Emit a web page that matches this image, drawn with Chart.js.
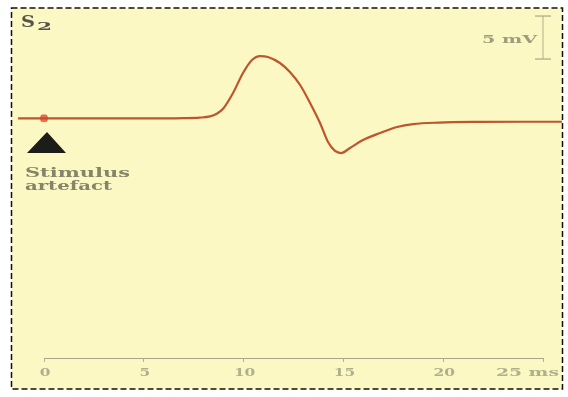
<!DOCTYPE html>
<html>
<head>
<meta charset="utf-8">
<script src="https://cdn.jsdelivr.net/npm/chart.js@4/dist/chart.umd.min.js"></script>
<style>
  html, body { margin: 0; padding: 0; background: #ffffff; }
  #wrap { position: relative; width: 568px; height: 397px; }
</style>
</head>
<body>
<div id="wrap"><canvas id="c" width="568" height="397"></canvas></div>
<script>
// ---- data (time in ms, potential in mV) ----
const traceMs = [-1.3, 0, 2, 4, 6, 7.0, 7.8, 8.32, 8.65, 8.97, 9.47, 9.97, 10.42, 10.82, 11.22, 11.82, 12.32, 12.83, 13.33, 13.83, 14.23, 14.58, 14.88, 15.33, 15.98, 16.83, 17.69, 18.49, 19.8, 21.8, 24, 25.95];
const traceMv = [0.2, 0.2, 0.2, 0.2, 0.2, 0.22, 0.28, 0.42, 0.72, 1.3, 3.14, 5.47, 6.98, 7.44, 7.33, 6.63, 5.58, 4.07, 1.98, -0.35, -2.56, -3.6, -3.84, -3.26, -2.33, -1.51, -0.81, -0.47, -0.3, -0.22, -0.2, -0.2];
const artefactMs = 0;
const artefactMv = 0.2;
const scaleBarMs = 25;
const scaleBarMv = [7.09, 12.09];   // 5 mV calibration bar
const scaleBarLabel = '5 mV';
const xTicks = [0, 5, 10, 15, 20, 25];
const xTickLabels = ['0', '5', '10', '15', '20', '25 ms'];
const panelLabel = 'S';
const panelSub = '2';
const artefactLabel = ['Stimulus', 'artefact'];

const BG = '#fbf8c4';

function stretchText(ctx, text, x, y, align, font, color, targetW) {
  ctx.save();
  ctx.font = font;
  ctx.fillStyle = color;
  ctx.textBaseline = 'alphabetic';
  const w = ctx.measureText(text).width;
  const sx = targetW ? targetW / w : 1;
  let left = x;
  if (align === 'center') left = x - (w * sx) / 2;
  else if (align === 'right') left = x - w * sx;
  ctx.translate(left, y);
  ctx.scale(sx, 1);
  ctx.textAlign = 'left';
  ctx.fillText(text, 0, 0);
  ctx.restore();
}

const panelPlugin = {
  id: 'panel',
  beforeDraw(chart) {
    const ctx = chart.ctx;
    ctx.save();
    ctx.fillStyle = BG;
    ctx.fillRect(11, 8, 551, 381);
    ctx.restore();
  },
  afterDraw(chart) {
    const ctx = chart.ctx;
    const xs = chart.scales.x, ys = chart.scales.y;
    // dashed frame
    ctx.save();
    ctx.strokeStyle = '#111';
    ctx.lineWidth = 1.5;
    ctx.setLineDash([6, 3]);
    ctx.strokeRect(11.5, 8, 551, 381);
    ctx.restore();

    const serif = '"DejaVu Serif", "Liberation Serif", serif';
    // x tick labels
    xTicks.forEach((v, i) => {
      const px = xs.getPixelForValue(v);
      const lab = xTickLabels[i];
      const f = 'bold 11px ' + serif;
      if (i === xTicks.length - 1) {
        stretchText(ctx, lab, px + 16, 376, 'right', f, '#b0af8e', 63);
      } else {
        ctx.save(); ctx.font = f;
        const w = ctx.measureText(lab).width; ctx.restore();
        stretchText(ctx, lab, px + 1, 376, 'center', f, '#b0af8e', w * 1.4);
      }
    });

    // calibration label
    const barMid = ys.getPixelForValue((scaleBarMv[0] + scaleBarMv[1]) / 2);
    stretchText(ctx, scaleBarLabel, xs.getPixelForValue(scaleBarMs) - 6, barMid + 5, 'right',
      'bold 11px ' + serif, '#9e9d7c', 55);

    // panel label S2
    stretchText(ctx, panelLabel, 21, 27, 'left', 'bold 17px ' + serif, '#55544a', 14);
    stretchText(ctx, panelSub, 37, 30, 'left', 'bold 11px ' + serif, '#55544a', 15);

    // stimulus artefact marker (triangle) and text
    const ax = xs.getPixelForValue(artefactMs);
    ctx.save();
    ctx.fillStyle = '#1c1c18';
    ctx.beginPath();
    ctx.moveTo(ax + 3, 132);
    ctx.lineTo(ax + 22, 153);
    ctx.lineTo(ax - 17, 153);
    ctx.closePath();
    ctx.fill();
    ctx.restore();
    stretchText(ctx, artefactLabel[0], 25, 177, 'left', 'bold 12px ' + serif, '#85846a', 105);
    stretchText(ctx, artefactLabel[1], 25, 190, 'left', 'bold 12px ' + serif, '#85846a', 87);
  }
};

const traceData = traceMs.map((t, i) => ({ x: t, y: traceMv[i] }));

new Chart(document.getElementById('c'), {
  type: 'scatter',
  data: {
    datasets: [
      {
        label: 'trace',
        data: traceData,
        showLine: true,
        borderColor: '#bd552e',
        borderWidth: 2.2,
        pointRadius: 0,
        cubicInterpolationMode: 'monotone',
        clip: false,
        order: 2
      },
      {
        label: 'artefact',
        data: [{ x: artefactMs, y: artefactMv }],
        pointStyle: 'rectRounded',
        pointRadius: 4,
        backgroundColor: 'rgba(215,60,40,0.7)',
        borderColor: 'rgba(215,60,40,0.45)',
        borderWidth: 1,
        clip: false,
        order: 1
      },
      {
        label: 'calibration',
        data: scaleBarMv.map(v => ({ x: scaleBarMs, y: v })),
        showLine: true,
        borderColor: '#c2c196',
        borderWidth: 1.3,
        pointStyle: 'line',
        pointRadius: 8,
        pointBorderColor: '#aead86',
        pointBorderWidth: 1.3,
        clip: false,
        order: 3
      }
    ]
  },
  options: {
    responsive: false,
    animation: false,
    events: [],
    layout: { padding: { left: 44, right: 25, top: 15, bottom: 0 } },
    plugins: { legend: { display: false }, tooltip: { enabled: false } },
    scales: {
      x: {
        type: 'linear',
        min: 0,
        max: 25,
        ticks: { stepSize: 5, display: false },
        grid: { display: true, drawOnChartArea: false, drawTicks: true, tickLength: 4, color: '#b3b390' },
        border: { display: true, color: '#a9a988', width: 1 },
        afterFit(scale) { scale.height = 39; }
      },
      y: {
        display: false,
        min: -27.67,
        max: 12.21
      }
    }
  },
  plugins: [panelPlugin]
});
</script>
</body>
</html>
